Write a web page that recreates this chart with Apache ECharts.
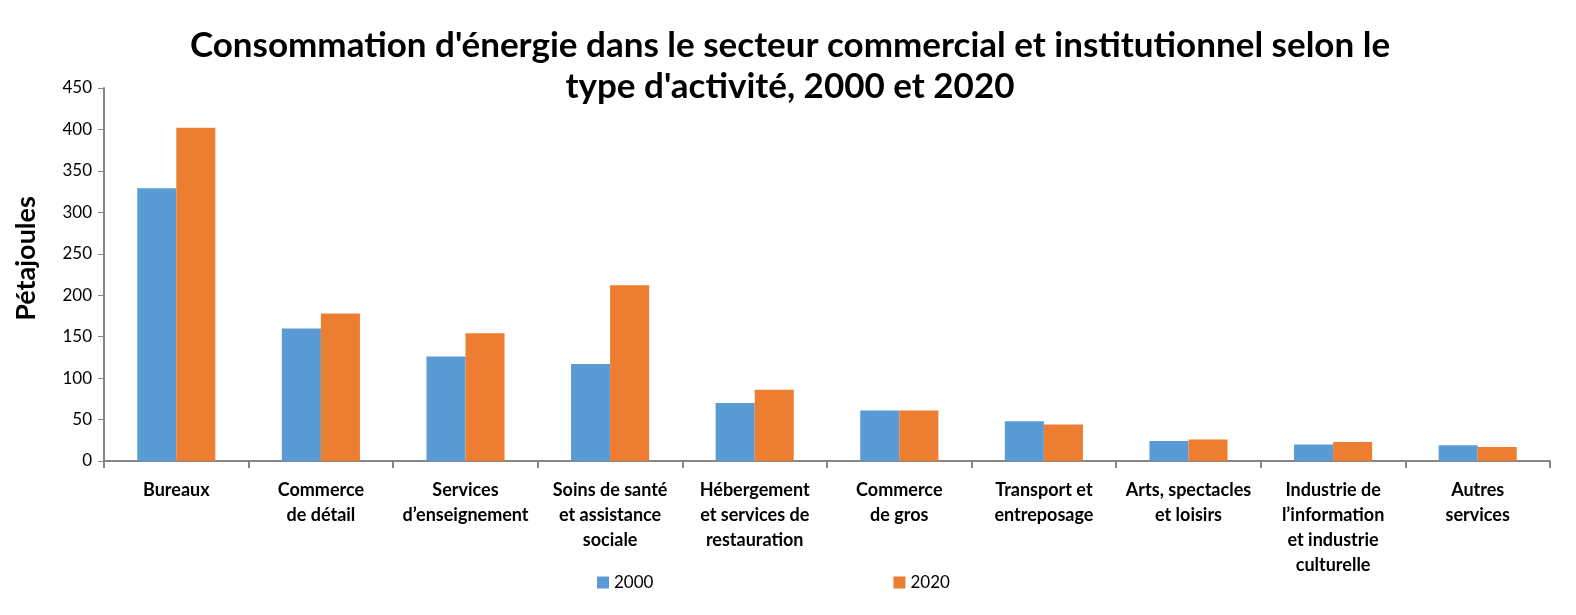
<!doctype html>
<html>
<head>
<meta charset="utf-8">
<title>Consommation d'énergie dans le secteur commercial et institutionnel</title>
<script src="https://cdn.jsdelivr.net/npm/echarts@6/dist/echarts.min.js"></script>
<style>
  html, body { margin: 0; padding: 0; background: #fff; }
  #chart { width: 1576px; height: 615px; }
</style>
</head>
<body>
<div id="chart"></div>
<script type="text/javascript">
// données
var categories = [
  'Bureaux',
  'Commerce\nde détail',
  'Services\nd\u2019enseignement',
  'Soins de santé\net assistance\nsociale',
  'Hébergement\net services de\nrestauration',
  'Commerce\nde gros',
  'Transport et\nentreposage',
  'Arts, spectacles\net loisirs',
  'Industrie de\nl\u2019information\net industrie\nculturelle',
  'Autres\nservices'
];
var data2000 = [329, 160, 126, 117, 70, 61, 48, 24, 20, 19];
var data2020 = [402, 178, 154, 212, 86, 61, 44, 26, 23, 17];
var yTicks = [0, 50, 100, 150, 200, 250, 300, 350, 400, 450];

var font = 'Lato, "Open Sans", sans-serif';
var axisGrey = '#868686';

var chart = echarts.init(document.getElementById('chart'));
var option = {
  animation: false,
  title: {
    text: 'Consommation d\'énergie dans le secteur commercial et institutionnel selon le\ntype d\'activité, 2000 et 2020',
    left: 785,
    textAlign: 'center',
    top: 20,
    textStyle: {
      fontFamily: font,
      fontWeight: 'bold',
      fontSize: 35,
      lineHeight: 41,
      color: '#000'
    }
  },
  legend: {
    data: ['2000', '2020'],
    left: 592,
    top: 569,
    itemWidth: 12,
    itemHeight: 12,
    itemGap: 240,
    icon: 'rect',
    textStyle: { fontFamily: font, fontSize: 17, color: '#000' }
  },
  grid: {
    left: 104,
    right: 26,
    top: 88,
    bottom: 154,
    containLabel: false
  },
  xAxis: {
    type: 'category',
    data: categories,
    axisLine: { lineStyle: { color: axisGrey, width: 2 } },
    axisTick: { show: true, alignWithLabel: false, length: 7, lineStyle: { color: axisGrey, width: 2 } },
    axisLabel: {
      interval: 0,
      margin: 17,
      fontFamily: font,
      fontWeight: 'bold',
      fontSize: 18,
      lineHeight: 25,
      color: '#000'
    }
  },
  yAxis: {
    type: 'value',
    min: yTicks[0],
    max: yTicks[yTicks.length - 1],
    interval: 50,
    name: 'Pétajoules',
    nameLocation: 'middle',
    nameGap: 64,
    nameRotate: 90,
    nameTextStyle: {
      fontFamily: font,
      fontWeight: 'bold',
      fontSize: 27,
      color: '#000',
      padding: [0, 0, 0, 32]
    },
    splitLine: { show: false },
    axisLine: { show: true, lineStyle: { color: axisGrey, width: 2 } },
    axisTick: { show: true, length: 6, lineStyle: { color: axisGrey, width: 1 } },
    axisLabel: {
      margin: 12,
      fontFamily: font,
      fontSize: 17,
      color: '#000'
    }
  },
  series: [
    {
      name: '2000',
      type: 'bar',
      data: data2000,
      barGap: '0%',
      barCategoryGap: '46%',
      itemStyle: { color: '#5B9BD5' }
    },
    {
      name: '2020',
      type: 'bar',
      data: data2020,
      barGap: '0%',
      barCategoryGap: '46%',
      itemStyle: { color: '#ED7D31' }
    }
  ]
};
chart.setOption(option);
</script>
</body>
</html>
